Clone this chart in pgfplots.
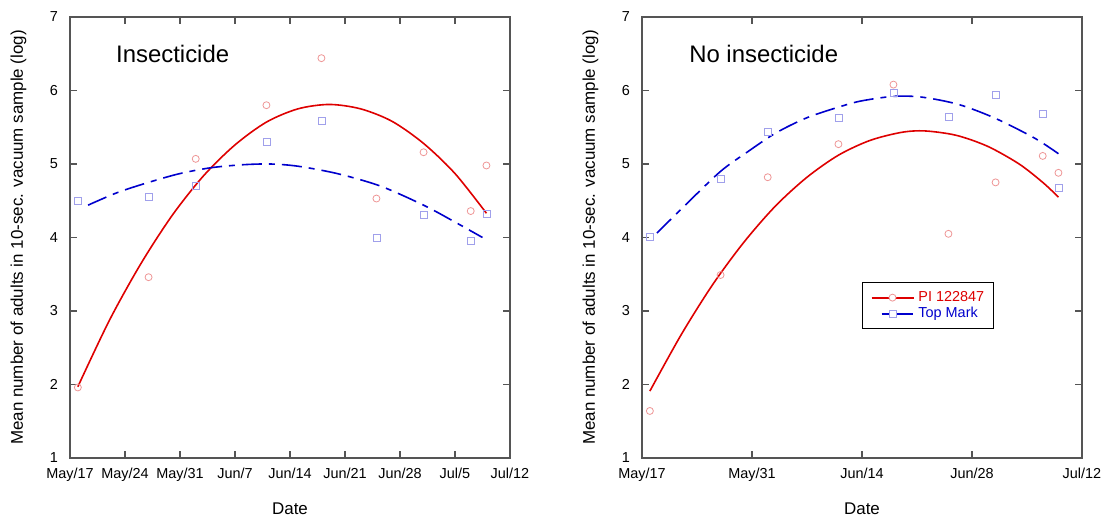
\documentclass[border=0pt]{standalone}
\usepackage{fontspec}
\setmainfont{Liberation Sans}
\usepackage{pgfplots}
\pgfplotsset{compat=1.18}
\definecolor{redline}{RGB}{222,0,0}
\definecolor{blueline}{RGB}{0,0,205}
\definecolor{pinkmark}{RGB}{238,150,150}
\definecolor{bluemark}{RGB}{160,160,235}
\definecolor{axgray}{RGB}{85,85,85}

\pgfplotsset{
  myaxis/.style={
    scale only axis, width=440bp, height=441bp,
    xmin=0, xmax=56, ymin=1, ymax=7,
    ytick={1,2,3,4,5,6,7},
    tick align=inside, major tick length=7bp,
    axis line style={draw=axgray, line width=1.5bp},
    major tick style={draw=axgray, line width=1.5bp},
    /pgf/number format/assume math mode=true,
    tick label style={font=\fontsize{14.5}{16}\selectfont, text=black},
    yticklabel style={inner sep=0pt, anchor=east, xshift=-12bp},
    xticklabel style={inner sep=0pt, anchor=north, yshift=-10bp},
    every axis x label/.style={at={(axis description cs:0.5,-0.1156)}, anchor=center, font=\fontsize{17}{20}\selectfont},
    every axis y label/.style={at={(axis description cs:-0.117,0.5)}, anchor=center, rotate=90, font=\fontsize{17}{20}\selectfont},
    xlabel={Date},
    ylabel={Mean number of adults in 10-sec. vacuum sample (log)},
  },
  circ/.style={only marks, mark=o, mark size=3.5bp, color=pinkmark, mark options={line width=0.8bp, draw=pinkmark, solid}},
  sq/.style={only marks, mark=square, mark size=3.5bp, color=bluemark, mark options={line width=0.8bp, draw=bluemark, solid}},
  redcurve/.style={no markers, smooth, color=redline, line width=1.6bp, solid},
  bluecurve/.style={no markers, smooth, color=blueline, line width=1.6bp, dash pattern=on 20bp off 7bp on 6bp off 7bp},
}

\begin{document}
\begin{tikzpicture}
\useasboundingbox (0,0) rectangle (1105bp,519bp);

% ---------------- Left: Insecticide ----------------
\begin{axis}[myaxis, at={(70bp,61bp)}, anchor=south west,
  xtick={0,7,14,21,28,35,42,49,56},
  xticklabels={May/17,May/24,May/31,Jun/7,Jun/14,Jun/21,Jun/28,Jul/5,Jul/12}]
\addplot[circ] coordinates {(1,1.96) (10,3.46) (16,5.07) (25,5.80) (32,6.44) (39,4.53) (45,5.16) (51,4.36) (53,4.98)};
\addplot[sq] coordinates {(1,4.50) (10,4.55) (16,4.70) (25,5.30) (32,5.58) (39,4.00) (45,4.31) (51,3.96) (53,4.32)};
\addplot[redcurve] coordinates {(1,1.97) (5,2.87) (9,3.64) (13,4.30) (17,4.84) (21,5.26) (25,5.57) (29,5.75) (33,5.81) (37,5.75) (41,5.58) (45,5.28) (49,4.87) (53,4.33)};
\addplot[bluecurve] coordinates {(2.3,4.44) (6,4.61) (10,4.75) (14,4.87) (18,4.95) (22,4.99) (25.5,5.00) (29,4.97) (34,4.87) (39.5,4.70) (45,4.44) (49,4.21) (52.5,4.00)};
\node[anchor=base west, font=\fontsize{24}{28}\selectfont, inner sep=0pt] at (rel axis cs:0.1045,0.8957) {Insecticide};
\end{axis}

% ---------------- Right: No insecticide ----------------
\begin{axis}[myaxis, at={(642bp,61bp)}, anchor=south west,
  xtick={0,14,28,42,56},
  xticklabels={May/17,May/31,Jun/14,Jun/28,Jul/12},
  legend cell align=left,
  legend style={draw=black, line width=1.2bp, anchor=north west, at={(0.5,0.399)},
    inner xsep=8bp, inner ysep=7bp, row sep=0bp, column sep=3bp,
    font=\fontsize{14.5}{16}\selectfont,
    nodes={inner sep=1bp, text height=11bp, text depth=3bp}}]
\addplot[circ, forget plot] coordinates {(1,1.64) (10,3.49) (16,4.82) (25,5.27) (32,6.08) (39,4.05) (45,4.75) (51,5.11) (53,4.88)};
\addplot[sq, forget plot] coordinates {(1,4.01) (10,4.80) (16,5.43) (25,5.63) (32,5.97) (39,5.64) (45,5.94) (51,5.68) (53,4.67)};
\addplot[redcurve, legend image code/.code={
    \draw[draw=redline, line width=1.8bp, solid] (0bp,0bp) -- (42bp,0bp);
    \draw[draw=pinkmark, fill=white, line width=0.8bp, solid] (21bp,0bp) circle (3.5bp);}]
  coordinates {(1,1.91) (5,2.68) (9,3.36) (13,3.94) (17,4.43) (21,4.82) (25,5.12) (29,5.32) (33,5.43) (36,5.45) (40,5.39) (44,5.24) (48,5.00) (51,4.75) (53,4.55)};
\addlegendentry{\textcolor{redline}{PI 122847}}
\addplot[bluecurve, legend image code/.code={
    \path[draw=none] (0bp,0bp) -- (42bp,0bp);
    \draw[draw=blueline, line width=1.8bp, solid] (10bp,0bp) -- (17bp,0bp);
    \draw[draw=blueline, line width=1.8bp, solid] (25bp,0bp) -- (41bp,0bp);
    \draw[draw=bluemark, fill=white, line width=0.8bp, solid] (17.5bp,-3.5bp) rectangle (24.5bp,3.5bp);}]
  coordinates {(1.9,4.06) (5.5,4.44) (10,4.90) (13.5,5.17) (17,5.42) (21,5.63) (25.5,5.79) (28,5.86) (32,5.92) (35.6,5.91) (40.3,5.81) (45,5.62) (50,5.35) (53,5.14)};
\addlegendentry{\textcolor{blueline}{Top Mark}}
\node[anchor=base west, font=\fontsize{24}{28}\selectfont, inner sep=0pt] at (rel axis cs:0.107,0.8957) {No insecticide};
\end{axis}
\end{tikzpicture}
\end{document}
